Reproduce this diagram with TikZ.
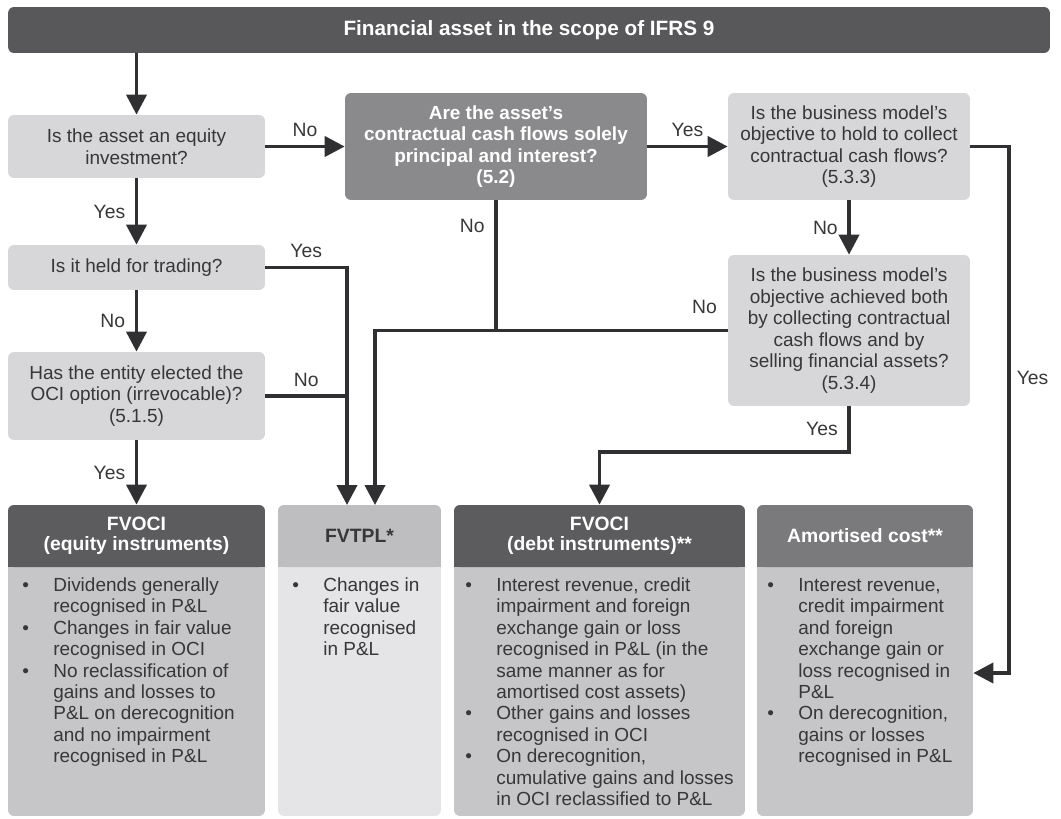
\documentclass[tikz,border=0pt]{standalone}
\usepackage{fontspec}
\setmainfont{Liberation Sans}
\usetikzlibrary{arrows.meta}

\definecolor{bardark}{RGB}{88,88,90}
\definecolor{qlight}{RGB}{215,215,217}
\definecolor{qmid}{RGB}{138,138,140}
\definecolor{hdark}{RGB}{92,92,94}
\definecolor{hmid}{RGB}{122,122,124}
\definecolor{hpale}{RGB}{190,190,192}
\definecolor{bodygray}{RGB}{198,198,200}
\definecolor{bodypale}{RGB}{229,229,231}
\definecolor{linegray}{RGB}{48,48,50}
\definecolor{textgray}{RGB}{55,55,57}

\newcommand{\blt}{\textbullet}
\newcommand{\blist}[1]{\begin{tabular}{@{}p{0.62cm}@{}l@{}}#1\end{tabular}}

\begin{document}
\begin{tikzpicture}[x=0.02cm, y=-0.02cm]
\tikzstyle{question} = [rectangle, rounded corners=0.12cm, fill=qlight, text=textgray, align=center, inner sep=0pt, font=\fontsize{10.8}{12.2}\selectfont]
\tikzstyle{keyq} = [question, fill=qmid, text=white, font=\bfseries\fontsize{10.8}{12.2}\selectfont]
\tikzstyle{title} = [rectangle, rounded corners=0.12cm, fill=bardark, text=white, inner sep=0pt, font=\bfseries\fontsize{11.8}{14}\selectfont]
\tikzstyle{head} = [rectangle, rounded corners=0.12cm, text=white, align=center, inner sep=0pt, font=\bfseries\fontsize{11}{11.6}\selectfont]
\tikzstyle{body} = [rectangle, rounded corners=0.12cm, inner sep=0pt]
\tikzstyle{bullets} = [anchor=north west, inner sep=0pt, text=textgray, font=\fontsize{10.8}{12.2}\selectfont]
\tikzstyle{flow} = [draw=linegray, line width=2.2pt, -{Triangle[length=0.4cm,width=0.4cm]}]
\tikzstyle{branch} = [draw=linegray, line width=2.2pt]
\tikzstyle{answer} = [text=textgray, font=\fontsize{11}{13}\selectfont]

\useasboundingbox (0,0) rectangle (1061,818);

\node[title, minimum width=20.84cm, minimum height=0.92cm] (top) at (529,30) {Financial asset in the scope of IFRS 9};

% questions
\node[question, minimum width=5.14cm, minimum height=1.26cm] (equity) at (136.5,146.5) {Is the asset an equity\\investment?};
\node[keyq, minimum width=6.04cm, minimum height=2.14cm] (sppi) at (496,146.5) {Are the asset’s\\contractual cash flows solely\\principal and interest?\\(5.2)};
\node[question, minimum width=4.84cm, minimum height=2.14cm] (hold) at (849,146.5) {Is the business model’s\\objective to hold to collect\\contractual cash flows?\\(5.3.3)};
\node[question, minimum width=4.84cm, minimum height=3.02cm] (both) at (849,330.5) {Is the business model’s\\objective achieved both\\by collecting contractual\\cash flows and by\\selling financial assets?\\(5.3.4)};
\node[question, minimum width=5.14cm, minimum height=0.9cm] (trading) at (136.5,267.5) {Is it held for trading?};
\node[question, minimum width=5.14cm, minimum height=1.76cm] (ocioption) at (136.5,396) {Has the entity elected the\\OCI option (irrevocable)?\\(5.1.5)};

% outcomes
\node[body, fill=bodygray, minimum width=5.14cm, minimum height=6.22cm] (eqbody) at (136.5,660.5) {};
\fill[hdark] (8,540) rectangle (265,567);
\node[head, fill=hdark, minimum width=5.14cm, minimum height=1.24cm] (eqhead) at (136.5,536) {FVOCI\\(equity instruments)};
\node[bullets] (eqlist) at (22,576) {\blist{
\blt & Dividends generally\\
 & recognised in P\&L\\
\blt & Changes in fair value\\
 & recognised in OCI\\
\blt & No reclassification of\\
 & gains and losses to\\
 & P\&L on derecognition\\
 & and no impairment\\
 & recognised in P\&L}};

\node[body, fill=bodypale, minimum width=3.26cm, minimum height=6.22cm] (tplbody) at (359.5,660.5) {};
\fill[hpale] (278,540) rectangle (441,567);
\node[head, fill=hpale, text=textgray, minimum width=3.26cm, minimum height=1.24cm] (tplhead) at (359.5,536) {FVTPL*};
\node[bullets] (tpllist) at (292,576) {\blist{
\blt & Changes in\\
 & fair value\\
 & recognised\\
 & in P\&L}};

\node[body, fill=bodygray, minimum width=5.82cm, minimum height=6.22cm] (debtbody) at (599.5,660.5) {};
\fill[hdark] (454,540) rectangle (745,567);
\node[head, fill=hdark, minimum width=5.82cm, minimum height=1.24cm] (debthead) at (599.5,536) {FVOCI\\(debt instruments)**};
\node[bullets] (debtlist) at (465,576) {\blist{
\blt & Interest revenue, credit\\
 & impairment and foreign\\
 & exchange gain or loss\\
 & recognised in P\&L (in the\\
 & same manner as for\\
 & amortised cost assets)\\
\blt & Other gains and losses\\
 & recognised in OCI\\
\blt & On derecognition,\\
 & cumulative gains and losses\\
 & in OCI reclassified to P\&L}};

\node[body, fill=bodygray, minimum width=4.32cm, minimum height=6.22cm] (amortbody) at (865,660.5) {};
\fill[hmid] (757,540) rectangle (973,567);
\node[head, fill=hmid, minimum width=4.32cm, minimum height=1.24cm] (amorthead) at (865,536) {Amortised cost**};
\node[bullets] (amortlist) at (767,576) {\blist{
\blt & Interest revenue,\\
 & credit impairment\\
 & and foreign\\
 & exchange gain or\\
 & loss recognised in\\
 & P\&L\\
\blt & On derecognition,\\
 & gains or losses\\
 & recognised in P\&L}};

% connectors
\coordinate (tplA) at (347,505);
\coordinate (tplB) at (375,505);
\coordinate (nomerge) at (sppi.south |- both.west);
\coordinate (yesturn) at (849,452);
\coordinate (rtop) at (1009,146.5);
\coordinate (rbot) at (1009,673);

\draw[flow] (top.south -| equity.north) -- (equity.north);
\draw[flow] (equity.east) -- node[answer, above=1pt] {No} (sppi.west);
\draw[flow] (sppi.east) -- node[answer, above=1pt] {Yes} (hold.west);
\draw[flow] (equity.south) -- node[answer, left=2pt] {Yes} (trading.north);
\draw[flow] (trading.south) -- node[answer, left=2pt] {No} (ocioption.north);
\draw[flow] (ocioption.south) -- node[answer, left=2pt] {Yes} (eqhead.north);
\draw[flow] (hold.south) -- node[answer, left=2pt] {No} (both.north);
\draw[flow] (trading.east) -| node[answer, pos=0.25, above=1pt] {Yes} (tplA);
\draw[branch] (ocioption.east) -- node[answer, above=1pt] {No} (ocioption.east -| tplA);
\draw[flow] (sppi.south) -- node[answer, pos=0.2, left=2pt] {No} (nomerge) -| (tplB);
\draw[branch] (both.west) -- node[answer, pos=0.1, above=5pt] {No} (nomerge);
\draw[flow] (both.south) -- node[answer, left=2pt] {Yes} (yesturn) -| (debthead.north);
\draw[flow] (hold.east) -- (rtop) -- node[answer, pos=0.44, right] {Yes} (rbot) -- (rbot -| amortbody.east);
\end{tikzpicture}
\end{document}
